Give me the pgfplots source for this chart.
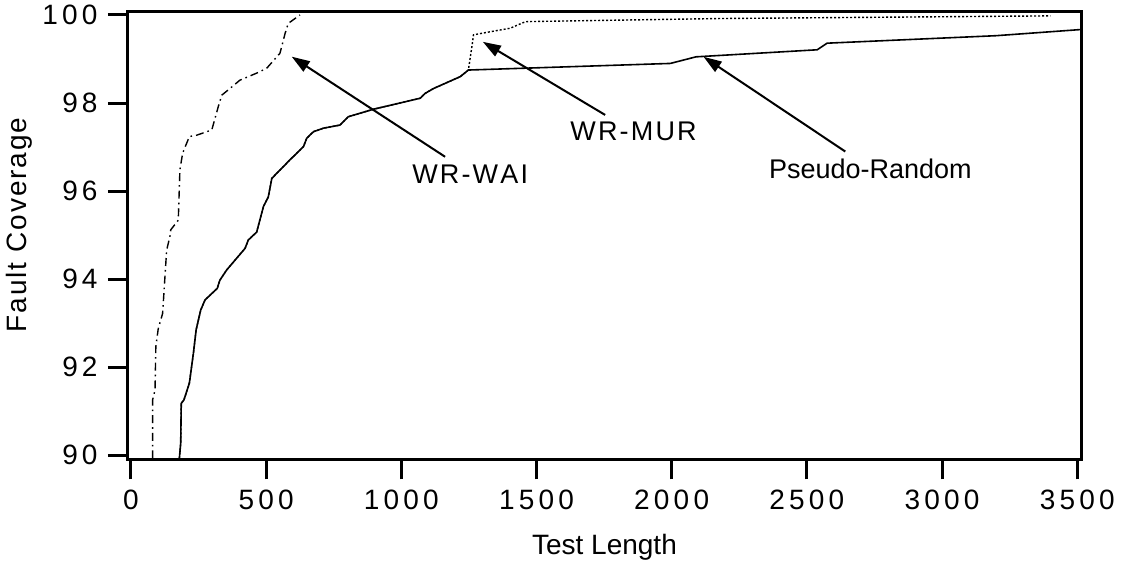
\documentclass[border=0pt]{standalone}
\usepackage{fontspec}
\setmainfont{Liberation Sans}
\usepackage{pgfplots}
\pgfplotsset{compat=1.18}
\usetikzlibrary{arrows.meta}
\newcommand{\g}{\hspace{0.15em}}
\newcommand{\h}{\hspace{0.08em}}
\begin{document}
\fontsize{13.5}{16}\selectfont
\begin{tikzpicture}
\begin{axis}[
  name=ax,
  scale only axis,
  clip=false,
  width=476.5pt, height=223.8pt,
  xmin=-11, xmax=3514,
  ymin=89.91, ymax=100.075,
  axis line style={line width=1.5pt},
  tick pos=left,
  tick align=outside,
  major tick length=10pt,
  major tick style={line width=1.5pt, black},
  xtick={0,500,1000,1500,2000,2500,3000,3500},
  xticklabels={0,5\g0\g0,1\g0\g0\g0,1\g5\g0\g0,2\g0\g0\g0,2\g5\g0\g0,3\g0\g0\g0,3\g5\g0\g0},
  ytick={90,92,94,96,98,100},
  yticklabels={9\g0,9\g2,9\g4,9\g6,9\g8,1\g0\g0},
  tick label style={font=\fontsize{14}{17}\selectfont},
  xticklabel style={yshift=-0.5pt},
  yticklabel style={xshift=-0.5pt},
]
% WR-WAI
\addplot[black, line width=0.7pt, dash pattern=on 4pt off 2pt on 0.8pt off 2pt] coordinates {
(80,89.93) (80,91.26) (89,91.48) (92,92.47) (101,92.88) (117,93.22) (132,94.66)
(144,94.97) (147,95.12) (175,95.34) (181,96.48) (191,96.86) (216,97.24) (243,97.27)
(299,97.39) (323,97.92) (336,98.18) (366,98.33) (403,98.52) (465,98.68) (502,98.79)
(551,99.13) (570,99.58) (582,99.81) (625,100.0)
};
% Pseudo-Random
\addplot[black, line width=0.8pt] coordinates {
(179,89.93) (184,90.28) (186,91.18) (196,91.26) (216,91.64) (231,92.32) (241,92.85)
(258,93.30) (274,93.53) (319,93.79) (329,93.98) (354,94.21) (422,94.70) (434,94.89)
(465,95.07) (490,95.65) (508,95.87) (521,96.29) (588,96.71) (638,97.01) (650,97.20)
(675,97.35) (712,97.43) (773,97.50) (804,97.69) (897,97.86) (1070,98.11) (1088,98.22)
(1119,98.33) (1218,98.60) (1248,98.75) (1995,98.90) (2090,99.05) (2538,99.21)
(2575,99.36) (3200,99.53) (3514,99.67)
};
% WR-MUR
\addplot[black, line width=0.7pt, dash pattern=on 1pt off 1pt] coordinates {
(179,89.93) (184,90.28) (186,91.18) (196,91.26) (216,91.64) (231,92.32) (241,92.85)
(258,93.30) (274,93.53) (319,93.79) (329,93.98) (354,94.21) (422,94.70) (434,94.89)
(465,95.07) (490,95.65) (508,95.87) (521,96.29) (588,96.71) (638,97.01) (650,97.20)
(675,97.35) (712,97.43) (773,97.50) (804,97.69) (897,97.86) (1070,98.11) (1088,98.22)
(1119,98.33) (1218,98.60) (1248,98.75) (1261,99.28) (1267,99.55) (1329,99.62)
(1403,99.70) (1452,99.83) (1465,99.85) (2180,99.92) (3401,99.98)
};
% arrows
\draw[line width=1pt, -{Triangle[length=9pt,width=6pt]}] (axis cs:1162,96.78) -- (axis cs:594.7,99.053);
\draw[line width=1pt, -{Triangle[length=9pt,width=6pt]}] (axis cs:1754,97.73) -- (axis cs:1301.6,99.39);
\draw[line width=1pt, -{Triangle[length=9pt,width=6pt]}] (axis cs:2642,96.90) -- (axis cs:2118,99.05);
\node[anchor=base] at (axis cs:1254.6,96.18) {W\h R\h -\h W\h A\h I};
\node[anchor=base] at (axis cs:1859,97.16) {W\h R\h -\h M\h U\h R};
\node[anchor=base] at (axis cs:2735,96.29) {Pseudo-Random};
\node[anchor=base, font=\fontsize{14}{17}\selectfont] at (axis description cs:0.5,-0.2138) {Test Length};
\node[anchor=base, rotate=90, font=\fontsize{14}{17}\selectfont\addfontfeature{LetterSpace=7}] at (axis description cs:-0.106,0.5235) {Fault Coverage};
\end{axis}
\pgfresetboundingbox
\path[use as bounding box] ([xshift=-64pt,yshift=-50.85pt]ax.south west) rectangle ([xshift=496.5pt,yshift=229.65pt]ax.south west);
\end{tikzpicture}
\end{document}
